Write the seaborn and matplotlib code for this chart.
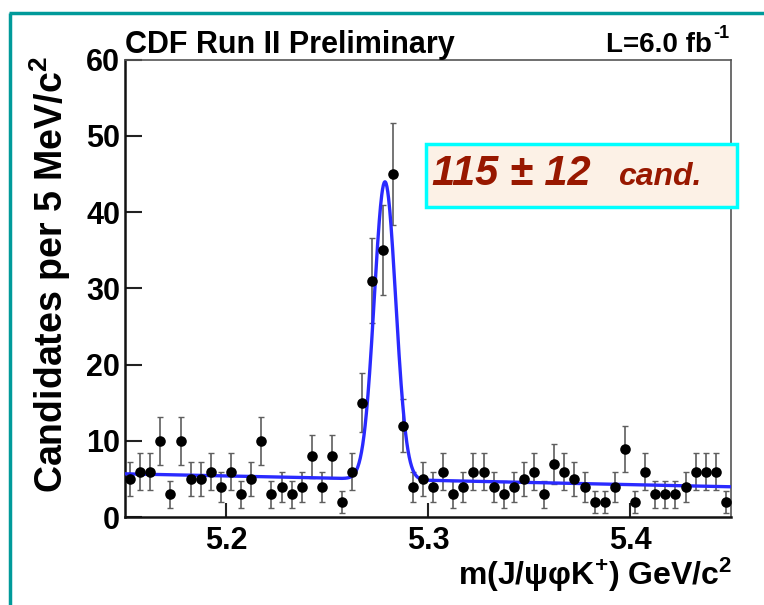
import numpy as np
import pandas as pd
import matplotlib
matplotlib.use("Agg")
import matplotlib.pyplot as plt
import seaborn as sns
from matplotlib.patches import Rectangle
from matplotlib.lines import Line2D

# ---------------- data ----------------
bin_width = 0.005
x_min, x_max = 5.15, 5.45
bin_centers = np.round(np.arange(x_min + bin_width / 2, x_max, bin_width), 4)
counts = [5, 6, 6, 10, 3, 10, 5, 5, 6, 4,
          6, 3, 5, 10, 3, 4, 3, 4, 8, 4,
          8, 2, 6, 15, 31, 35, 45, 12, 4, 5,
          4, 6, 3, 4, 6, 6, 4, 3, 4, 5,
          6, 3, 7, 6, 5, 4, 2, 2, 4, 9,
          2, 6, 3, 3, 3, 4, 6, 6, 6, 2]
count_errors = np.sqrt(counts)

# fit model parameters (gaussian signal + linear background)
fit_mean = 5.2787
fit_sigma = 0.0053
fit_amplitude = 39.0
bkg_at_low = 5.7
bkg_at_high = 4.0

y_ticks = [0, 10, 20, 30, 40, 50, 60]
x_ticks = [5.2, 5.3, 5.4]
x_tick_labels = ["5.2", "5.3", "5.4"]

title_left = "CDF Run II Preliminary"
title_right = "L=6.0 fb"
title_right_sup = "-1"
x_label = r"m(J/ψφK$^{+}$) GeV/c$^{2}$"
y_label = r"Candidates per 5 MeV/c$^{2}$"
yield_text = "115 ± 12"
yield_unit = "cand."

# ---------------- style ----------------
sns.set_theme(style="ticks")
plt.rcParams["font.family"] = ["Liberation Sans", "DejaVu Sans"]
plt.rcParams["mathtext.fontset"] = "custom"
plt.rcParams["mathtext.rm"] = "Liberation Sans:bold"
plt.rcParams["mathtext.bf"] = "Liberation Sans:bold"
plt.rcParams["mathtext.it"] = "Liberation Sans:bold:italic"
plt.rcParams["mathtext.default"] = "bf"

fig = plt.figure(figsize=(7.64, 6.05), dpi=100)
fig.patch.set_facecolor("white")
ax = fig.add_axes([125 / 764, 1 - 517.3 / 605, (731 - 125) / 764, (517.3 - 59.5) / 605])

# fit curve
xf = np.linspace(x_min, x_max, 1500)
bkg = bkg_at_low + (bkg_at_high - bkg_at_low) * (xf - x_min) / (x_max - x_min)
yf = bkg + fit_amplitude * np.exp(-0.5 * ((xf - fit_mean) / fit_sigma) ** 2)
fit_df = pd.DataFrame({"mass": xf, "fit": yf})

data_df = pd.DataFrame({"mass": bin_centers, "count": counts})

ax.errorbar(bin_centers, counts, yerr=count_errors, fmt="none",
            ecolor="#5e5e5e", elinewidth=1.2, capsize=2.2, capthick=1.0, zorder=2)
sns.lineplot(data=fit_df, x="mass", y="fit", ax=ax, color="#2a2aff",
             linewidth=2.4, zorder=3, legend=False)
sns.scatterplot(data=data_df, x="mass", y="count", ax=ax, color="black",
                s=58, marker="o", edgecolor="black", linewidth=0, zorder=4, legend=False)

ax.set_xlim(x_min, x_max)
ax.set_ylim(0, 60)
ax.set_xticks(x_ticks)
ax.set_xticklabels(x_tick_labels)
ax.set_yticks(y_ticks)
ax.set_xlabel("")
ax.set_ylabel("")
ax.tick_params(axis="both", direction="in", labelsize=22, width=1.5,
               color="#222222", labelcolor="black")
ax.tick_params(axis="y", length=12, pad=3.5)
ax.tick_params(axis="x", length=10, pad=6)
for lab in ax.get_xticklabels() + ax.get_yticklabels():
    lab.set_fontweight("bold")
for side in ["left", "bottom"]:
    ax.spines[side].set_linewidth(1.8)
    ax.spines[side].set_color("#111111")
for side in ["top", "right"]:
    ax.spines[side].set_linewidth(1.2)
    ax.spines[side].set_color("#555555")

# texts
fig.text(125 / 764, 1 - 53.3 / 605, title_left, fontsize=22, fontweight="bold",
         ha="left", va="baseline", color="black")
fig.text(712 / 764, 1 - 52 / 605, title_right, fontsize=20, fontweight="bold",
         ha="right", va="baseline", color="black")
fig.text(713 / 764, 1 - 38 / 605, title_right_sup, fontsize=13, fontweight="bold",
         ha="left", va="baseline", color="black")
fig.text(732 / 764, 1 - 585 / 605, x_label, fontsize=23, fontweight="bold",
         ha="right", va="baseline", color="black")
fig.text(50 / 764, 1 - 56 / 605, y_label, fontsize=27, fontweight="bold",
         rotation=90, ha="center", va="top", color="black")

# yield box
fig.patches.append(Rectangle((425.5 / 764, 1 - 207 / 605), (737 - 425.5) / 764, (207 - 144) / 605,
                             transform=fig.transFigure, facecolor="#fcf1e6",
                             edgecolor="#00ffff", linewidth=2.5, zorder=5))
fig.text(432 / 764, 1 - 185 / 605, yield_text, fontsize=30, fontweight="bold",
         fontstyle="italic", color="#981800", ha="left", va="baseline", zorder=6)
fig.text(618 / 764, 1 - 185 / 605, yield_unit, fontsize=23, fontweight="bold",
         fontstyle="italic", color="#981800", ha="left", va="baseline", zorder=6)

# outer teal frame lines
teal = "#009a9a"
fig.lines.append(Line2D([10 / 764, 10 / 764], [0, 1 - 13.3 / 605], transform=fig.transFigure,
                        color=teal, linewidth=2.5, solid_capstyle="butt"))
fig.lines.append(Line2D([8.7 / 764, 1], [1 - 13.3 / 605, 1 - 13.3 / 605], transform=fig.transFigure,
                        color=teal, linewidth=2.5, solid_capstyle="butt"))

fig.savefig("out.png", dpi=100)
